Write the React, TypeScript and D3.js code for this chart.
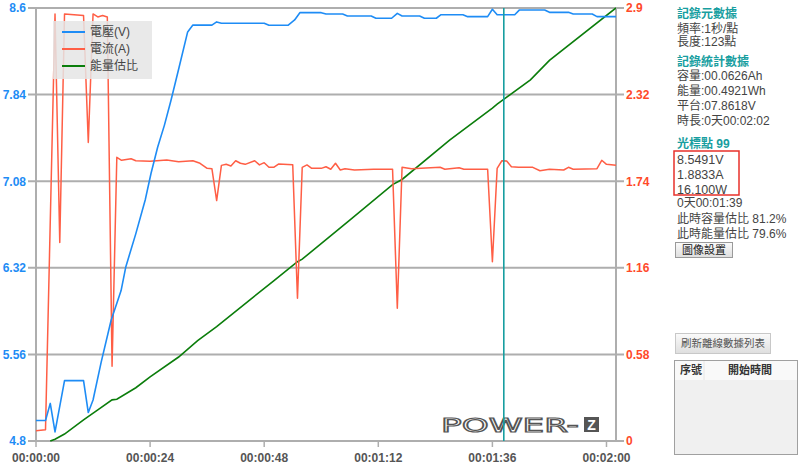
import React from 'react';
import * as d3 from 'd3';

// ---------- data ----------
const xTickSeconds = [0, 24, 48, 72, 96, 120];
const xTickLabels = ['00:00:00', '00:00:24', '00:00:48', '00:01:12', '00:01:36', '00:02:00'];
const voltageTicks = [4.8, 5.56, 6.32, 7.08, 7.84, 8.6];
const currentTicks = [0, 0.58, 1.16, 1.74, 2.32, 2.9];
const seriesNames = ['電壓(V)', '電流(A)', '能量估比'];

const voltageTime = [0, 2, 3, 4, 6, 10, 11, 12, 13.7, 15.8, 17.9, 18.9, 21, 23, 24.2, 25.6, 27, 28.4, 30.1, 31.9, 33, 37, 38, 39, 48, 49, 53, 54.4, 55.5, 60, 61, 64.5, 65.5, 70.5, 71.5, 74.8, 76, 77, 80.7, 81.7, 84.2, 85.2, 89.8, 90.8, 95, 96, 97, 100.7, 101.7, 107, 108, 112, 113, 117, 118, 122];
const voltageValue = [4.98, 4.98, 5.13, 4.88, 5.33, 5.33, 5.05, 5.16, 5.49, 5.86, 6.12, 6.33, 6.62, 6.92, 7.15, 7.38, 7.57, 7.79, 8.08, 8.39, 8.45, 8.45, 8.478, 8.466, 8.466, 8.448, 8.448, 8.495, 8.559, 8.559, 8.547, 8.547, 8.53, 8.53, 8.51, 8.51, 8.553, 8.53, 8.53, 8.51, 8.51, 8.541, 8.541, 8.524, 8.524, 8.589, 8.541, 8.541, 8.583, 8.583, 8.562, 8.562, 8.547, 8.547, 8.524, 8.524];

const currentTime = [0, 2, 4, 5, 6, 10, 11, 12, 13, 14, 15, 16, 17, 18, 20, 21, 24, 27.5, 30, 33, 34.5, 36, 37, 38, 39, 40, 41, 42, 43, 44, 46, 47, 48, 49, 50, 51, 54, 55, 56, 57, 58, 60, 61, 62, 63, 64, 65, 67, 71, 75, 76, 77, 79, 85, 86, 89, 90, 95, 96, 97, 98, 99, 100, 101.5, 104.5, 106, 108, 111, 112, 113, 118, 119, 120, 122];
const currentValue = [0.069, 0.075, 2.86, 1.33, 2.86, 2.85, 2.0, 2.86, 2.84, 2.85, 2.84, 0.5, 1.9, 1.88, 1.89, 1.877, 1.873, 1.882, 1.871, 1.877, 1.86, 1.826, 1.824, 1.61, 1.846, 1.853, 1.842, 1.877, 1.86, 1.853, 1.877, 1.849, 1.864, 1.833, 1.833, 1.855, 1.851, 0.956, 1.833, 1.849, 1.826, 1.826, 1.837, 1.82, 1.86, 1.815, 1.824, 1.815, 1.82, 1.82, 0.889, 1.833, 1.824, 1.833, 1.82, 1.83, 1.82, 1.82, 1.201, 1.826, 1.877, 1.875, 1.837, 1.833, 1.833, 1.81, 1.82, 1.815, 1.833, 1.82, 1.824, 1.88, 1.853, 1.846];

const energyTime = [3, 4, 6, 10, 13, 16, 17, 21, 24, 30, 34, 38, 45, 50, 55, 56, 66, 75, 77, 87, 96, 97, 104, 108, 122];
const energyPct = [0, 0.4, 1.6, 4.9, 7.2, 9.5, 9.65, 12.3, 14.8, 19.4, 23.2, 26.4, 32.6, 37.0, 41.4, 42.0, 51.0, 59.2, 60.4, 69.5, 76.9, 77.8, 83.4, 87.9, 100];

const cursorTime = 98.4;

const metaTitle = '記錄元數據';
const metaLines = ['頻率:1秒/點', '長度:123點'];
const statTitle = '記錄統計數據';
const statLines = ['容量:00.0626Ah', '能量:00.4921Wh', '平台:07.8618V', '時長:0天00:02:02'];
const cursorTitle = '光標點 99';
const cursorBoxed = ['8.5491V', '1.8833A', '16.100W'];
const cursorLines = ['0天00:01:39', '此時容量估比 81.2%', '此時能量估比 79.6%'];

// ---------- styling ----------
const BLUE = '#1e8cf5';
const RED = '#ff5e45';
const RED_LABEL = '#ff4a2a';
const GREEN = '#0b7d0b';
const GRID = '#aeaeae';
const TEAL = '#179ea0';
const TXT = '#555';
const FONT = '"Liberation Sans", Arial, sans-serif';
const PANEL = '"Liberation Sans", "Noto Sans CJK TC", "Noto Sans CJK SC", sans-serif';

const L = 36, R = 616, T = 8, B = 441;

export default function App() {
  const x = d3.scaleLinear().domain([0, 122]).range([L, R]);
  const yV = d3.scaleLinear().domain([4.8, 8.6]).range([B, T]);
  const yA = d3.scaleLinear().domain([0, 2.9]).range([B, T]);
  const yE = d3.scaleLinear().domain([0, 100]).range([B, T]);

  const line = d3.line<[number, number]>().x(d => d[0]).y(d => d[1]);
  const vPath = line(voltageTime.map((t, i) => [x(t), yV(voltageValue[i])]));
  const aPath = line(currentTime.map((t, i) => [x(t), yA(currentValue[i])]));
  const ePath = line(energyTime.map((t, i) => [x(t), yE(energyPct[i])]));

  const legendY = [32, 49, 66];
  const legendColors = [BLUE, RED, GREEN];

  return (
    <svg width={800} height={466} style={{ position: 'absolute', left: 0, top: 0, background: '#fff' }}>
      <defs>
        <linearGradient id="btn" x1="0" y1="0" x2="0" y2="1">
          <stop offset="0" stopColor="#fbfbfb" />
          <stop offset="1" stopColor="#dedede" />
        </linearGradient>
        <clipPath id="plot"><rect x={L} y={T - 2} width={R - L} height={B - T + 4} /></clipPath>
      </defs>

      {/* gridlines with ticks */}
      {voltageTicks.map((v, i) => (
        <line key={'g' + i} x1={L - 8} x2={R + 8} y1={yV(v)} y2={yV(v)} stroke={GRID} strokeWidth={2} />
      ))}
      {/* axis lines */}
      <line x1={L} x2={L} y1={T} y2={B + 1} stroke={GRID} strokeWidth={2} />
      <line x1={R} x2={R} y1={T} y2={B + 1} stroke={GRID} strokeWidth={2} />
      {xTickSeconds.map((s, i) => (
        <line key={'xt' + i} x1={x(s)} x2={x(s)} y1={B} y2={B + 6} stroke={GRID} strokeWidth={1.5} />
      ))}

      {/* left labels */}
      {voltageTicks.map((v, i) => (
        <text key={'lv' + i} x={L - 10} y={yV(v)} dy="0.36em" textAnchor="end" fill={BLUE}
          fontFamily={FONT} fontWeight="bold" fontSize={12}>{String(v)}</text>
      ))}
      {/* right labels */}
      {currentTicks.map((v, i) => (
        <text key={'ra' + i} x={R + 10} y={yA(v)} dy="0.36em" textAnchor="start" fill={RED_LABEL}
          fontFamily={FONT} fontWeight="bold" fontSize={12}>{String(v)}</text>
      ))}
      {/* bottom labels */}
      {xTickSeconds.map((s, i) => (
        <text key={'xl' + i} x={x(s)} y={458} dy="0.36em" textAnchor="middle" fill={TXT}
          fontFamily={FONT} fontWeight="bold" fontSize={12}>{xTickLabels[i]}</text>
      ))}

      {/* logo */}
      <text x={441} y={432} fontFamily='"DejaVu Sans", sans-serif' fontSize={19} fill="none" stroke="#555"
        strokeWidth={1.1} textLength={138} lengthAdjust="spacingAndGlyphs">POWER-</text>
      <rect x={584} y={417} width={15} height={15} fill="#555" />
      <text x={591.5} y={424.5} dy="0.36em" textAnchor="middle" fontFamily={FONT} fontWeight="bold" fontSize={14} fill="#fff">Z</text>

      {/* series */}
      <g clipPath="url(#plot)">
        <path d={ePath || ''} fill="none" stroke={GREEN} strokeWidth={1.6} />
        <path d={aPath || ''} fill="none" stroke={RED} strokeWidth={1.5} strokeLinejoin="round" />
        <path d={vPath || ''} fill="none" stroke={BLUE} strokeWidth={1.6} strokeLinejoin="round" />
      </g>

      {/* cursor */}
      <line x1={x(cursorTime)} x2={x(cursorTime)} y1={T} y2={B} stroke={TEAL} strokeWidth={1.6} />

      {/* legend */}
      <rect x={53} y={21} width={99} height={58} fill="#e5e5e5" opacity={0.85} />
      {seriesNames.map((n, i) => (
        <g key={'lg' + i}>
          <line x1={62} x2={85} y1={legendY[i]} y2={legendY[i]} stroke={legendColors[i]} strokeWidth={2} />
          <text x={90} y={legendY[i]} dy="0.36em" fill="#444" fontFamily={PANEL} fontSize={12}>{n}</text>
        </g>
      ))}

      {/* right panel */}
      <g fontFamily={PANEL} fontSize={12}>
        <text x={677} y={13.5} dy="0.36em" fill={TEAL} fontWeight="bold">{metaTitle}</text>
        {metaLines.map((t, i) => (
          <text key={'m' + i} x={677} y={28.3 + i * 13.6} dy="0.36em" fill="#444">{t}</text>
        ))}
        <text x={677} y={61.5} dy="0.36em" fill={TEAL} fontWeight="bold">{statTitle}</text>
        {statLines.map((t, i) => (
          <text key={'s' + i} x={677} y={76 + i * 14.9} dy="0.36em" fill="#444">{t}</text>
        ))}
        <text x={677} y={143.5} dy="0.36em" fill={TEAL} fontWeight="bold">{cursorTitle}</text>
        <rect x={674} y={151} width={65} height={44} fill="none" stroke="#e8302a" strokeWidth={1.5} />
        {cursorBoxed.map((t, i) => (
          <text key={'cb' + i} x={677} y={159.5 + i * 15} dy="0.36em" fill="#444" fontSize={12.5}>{t}</text>
        ))}
        {cursorLines.map((t, i) => (
          <text key={'cl' + i} x={677} y={203 + i * 15.5} dy="0.36em" fill="#444" fontSize={12}>{t}</text>
        ))}
        <rect x={675.5} y={242.5} width={57} height={15} fill="url(#btn)" stroke="#9a9a9a" />
        <text x={704} y={250} dy="0.36em" textAnchor="middle" fill="#222" fontSize={11}>圖像設置</text>

        <rect x={675.5} y={333.5} width={95} height={20} fill="url(#btn)" stroke="#c8c8c8" />
        <text x={723} y={343.5} dy="0.36em" textAnchor="middle" fill="#555" fontSize={10.5}>刷新離線數據列表</text>

        <rect x={674.5} y={360.5} width={123} height={94} fill="#f0f0f0" stroke="#a0a0a0" />
        <rect x={675} y={361} width={122} height={19} fill="#f9f9f9" />
        <line x1={704} x2={704} y1={361} y2={380} stroke="#e6e6e6" />
        <text x={680} y={370.5} dy="0.36em" fill="#333" fontSize={11} fontWeight="bold">序號</text>
        <text x={750} y={370.5} dy="0.36em" textAnchor="middle" fill="#333" fontSize={11} fontWeight="bold">開始時間</text>
      </g>
    </svg>
  );
}
